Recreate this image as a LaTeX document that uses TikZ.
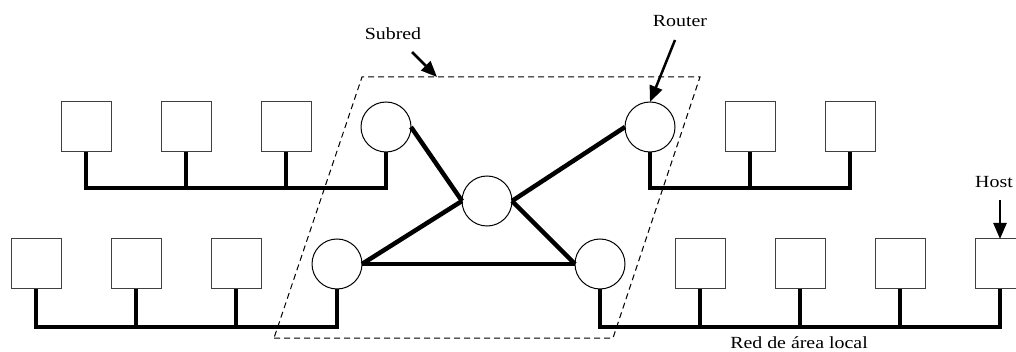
\documentclass[tikz,border=0pt]{standalone}
\usepackage{fontspec}
\setmainfont{Liberation Serif}
\usetikzlibrary{arrows.meta}
% labels are set slightly widened
\newcommand\widetext[1]{\scalebox{1.17}[1]{#1}}
\begin{document}
\begin{tikzpicture}[x=1pt,y=-1pt,
  host/.style={draw=black!75, line width=1pt, fill=white, minimum size=50pt, inner sep=0pt, outer sep=0pt},
  router/.style={circle, draw=black, line width=1pt, fill=white, minimum size=50pt, inner sep=0pt, outer sep=0pt},
  link/.style={line width=4.5pt},
  lan/.style={line width=4.5pt, line join=miter},
  callout/.style={line width=2.5pt, -{Triangle[length=16pt,width=13pt]}},
  lbl/.style={font=\fontsize{17}{20}\selectfont, inner sep=0pt, anchor=base},
  subnet/.style={line width=1pt, dash pattern=on 6pt off 4pt}
]
\useasboundingbox (0,0) rectangle (1016,352);
\clip (0,0) rectangle (1016,352);

% subnet boundary
\draw[subnet] (274,338) -- (613,338) -- (700,77) -- (362,77) -- cycle;

% routers
\node[router] (rtl) at (386,127) {};
\node[router] (rtr) at (650,127) {};
\node[router] (rmid) at (487,201) {};
\node[router] (rbl) at (337,264) {};
\node[router] (rbr) at (600,264) {};

% hosts, upper left LAN
\node[host] (a1) at (86,127) {};
\node[host] (a2) at (186,127) {};
\node[host] (a3) at (286,127) {};
% hosts, upper right LAN
\node[host] (b1) at (750,127) {};
\node[host] (b2) at (850,127) {};
% hosts, lower left LAN
\node[host] (c1) at (36,264) {};
\node[host] (c2) at (136,264) {};
\node[host] (c3) at (236,264) {};
% hosts, lower right LAN
\node[host] (d1) at (700,264) {};
\node[host] (d2) at (800,264) {};
\node[host] (d3) at (900,264) {};
\node[host] (d4) at (1000,264) {};

% links between routers
\draw[link] (rtl.east) -- (rmid.west);
\draw[link] (rbl.east) -- (rmid.west);
\draw[link] (rtr.west) -- (rmid.east);
\draw[link] (rmid.east) -- (rbr.west);
\draw[link] (rbl.east) -- (rbr.west);

% local area networks (buses)
\draw[lan] (a1.south) -- (a1.south |- 0,188) -- (rtl.south |- 0,188) -- (rtl.south);
\draw[lan] (a2.south) -- (a2.south |- 0,188);
\draw[lan] (a3.south) -- (a3.south |- 0,188);

\draw[lan] (rtr.south) -- (rtr.south |- 0,188) -- (b2.south |- 0,188) -- (b2.south);
\draw[lan] (b1.south) -- (b1.south |- 0,188);

\draw[lan] (c1.south) -- (c1.south |- 0,327) -- (rbl.south |- 0,327) -- (rbl.south);
\draw[lan] (c2.south) -- (c2.south |- 0,327);
\draw[lan] (c3.south) -- (c3.south |- 0,327);

\draw[lan] (rbr.south) -- (rbr.south |- 0,327) -- (d4.south |- 0,327) -- (d4.south);
\draw[lan] (d1.south) -- (d1.south |- 0,327);
\draw[lan] (d2.south) -- (d2.south |- 0,327);
\draw[lan] (d3.south) -- (d3.south |- 0,327);

% labels and callouts
\node[lbl] (lsub) at (393,40) {\widetext{Subred}};
\node[lbl] (lrout) at (680,27) {\widetext{Router}};
\node[lbl] (lhost) at (994,188) {\widetext{Host}};
\node[lbl] (llan) at (799,348) {\widetext{Red de área local}};

\coordinate (subtail) at (412,52);
\coordinate (subtip) at (437,77);
\coordinate (routtail) at (675,40);
\coordinate (hosttail) at (1000,200);

\draw[callout] (subtail) -- (subtip);
\draw[callout] (routtail) -- (rtr.north);
\draw[callout] (hosttail) -- (d4.north);
\end{tikzpicture}
\end{document}
